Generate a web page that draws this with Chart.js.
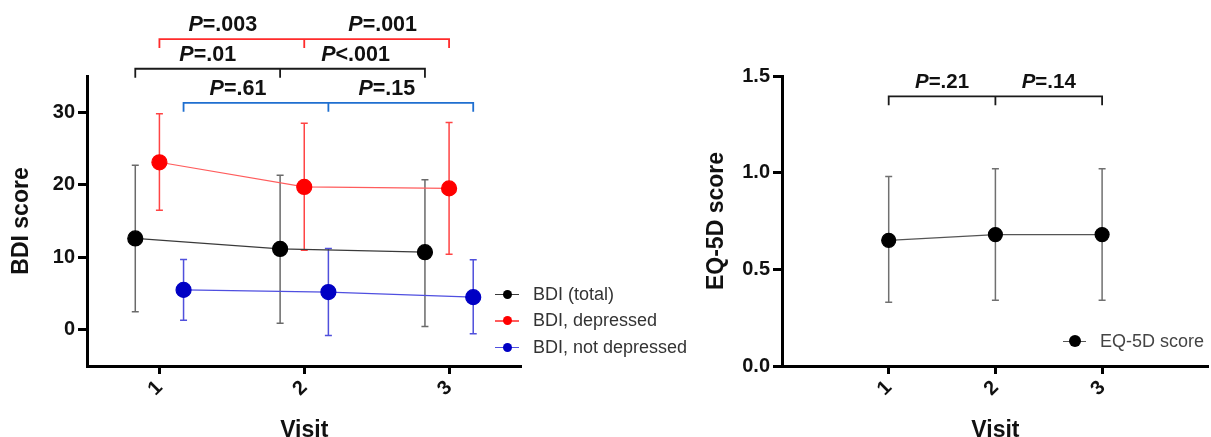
<!DOCTYPE html>
<html>
<head>
<meta charset="utf-8">
<title>BDI and EQ-5D by visit</title>
<script src="https://cdn.jsdelivr.net/npm/chart.js@4.4.1/dist/chart.umd.min.js"></script>
<style>
  html, body { margin: 0; padding: 0; background: #fff; overflow: hidden; }
  #wrap { position: relative; width: 1211px; height: 437px; overflow: hidden; }
  #bdi-chart { position: absolute; left: 0; top: 0; }
  #eq-chart { position: absolute; left: 700px; top: 0; }
  .legend { position: absolute; font-family: "Liberation Sans", Arial, sans-serif; font-size: 18px; color: #333; }
  .legend div { position: relative; height: 26.7px; line-height: 26.7px; padding-left: 38px; white-space: nowrap; }
  .legend i { position: absolute; left: 0; top: 13px; width: 24px; height: 1.5px; }
  .legend b { position: absolute; left: 7.5px; top: 9.3px; width: 9px; height: 9px; border-radius: 50%; }
  #eq-legend { color: #444; }
  #eq-legend div { padding-left: 37px; }
  #eq-legend i { width: 23px; }
  #eq-legend b { left: 5.5px; top: 7.6px; width: 12px; height: 12px; }
</style>
</head>
<body>
<div id="wrap">
  <canvas id="bdi-chart" width="560" height="448"></canvas>
  <canvas id="eq-chart" width="517" height="448"></canvas>
  <div class="legend" id="bdi-legend" style="left:495px; top:280.5px;"></div>
  <div class="legend" id="eq-legend" style="left:1063px; top:327.5px;"></div>
</div>
<script>
const FONT = '"Liberation Sans", Arial, sans-serif';

const VISITS = [1, 2, 3];
const VISIT_LABELS = ["1", "2", "3"];

// BDI score, mean with lower / upper end of error bar
const BDI_TOTAL = [12.6, 11.15, 10.7];
const BDI_TOTAL_LOW = [2.5, 0.9, 0.45];
const BDI_TOTAL_HIGH = [22.7, 21.3, 20.7];

const BDI_DEPRESSED = [23.1, 19.7, 19.5];
const BDI_DEPRESSED_LOW = [16.5, 10.95, 10.4];
const BDI_DEPRESSED_HIGH = [29.8, 28.5, 28.6];

const BDI_NOT_DEPRESSED = [5.5, 5.2, 4.5];
const BDI_NOT_DEPRESSED_LOW = [1.3, -0.8, -0.55];
const BDI_NOT_DEPRESSED_HIGH = [9.7, 11.2, 9.65];

const EQ5D = [0.65, 0.68, 0.68];
const EQ5D_LOW = [0.33, 0.34, 0.34];
const EQ5D_HIGH = [0.98, 1.02, 1.02];

const BDI_TICKS = [0, 10, 20, 30];
const EQ5D_TICKS = [0, 0.5, 1.0, 1.5];

// pairwise comparisons (visit 1 vs 2, visit 2 vs 3)
const P_DEPRESSED = ["P=.003", "P=.001"];
const P_TOTAL = ["P=.01", "P<.001"];
const P_NOT_DEPRESSED = ["P=.61", "P=.15"];
const P_EQ5D = ["P=.21", "P=.14"];

// groups are dodged around each visit
const DODGE = 1 / 6;

function points(values, shift) {
  return values.map((v, i) => ({ x: VISITS[i] + shift, y: v }));
}

const errorBars = {
  id: "errorBars",
  beforeDatasetsDraw(chart) {
    const { ctx, scales: { x, y } } = chart;
    chart.data.datasets.forEach((ds) => {
      if (!ds.low) return;
      ctx.save();
      ctx.strokeStyle = ds.errorColor;
      ctx.lineWidth = 1.5;
      ds.data.forEach((pt, i) => {
        const px = x.getPixelForValue(pt.x);
        const top = y.getPixelForValue(ds.high[i]);
        const bot = y.getPixelForValue(ds.low[i]);
        ctx.beginPath();
        ctx.moveTo(px, top);
        ctx.lineTo(px, bot);
        ctx.moveTo(px - 3.5, top);
        ctx.lineTo(px + 3.5, top);
        ctx.moveTo(px - 3.5, bot);
        ctx.lineTo(px + 3.5, bot);
        ctx.stroke();
      });
      ctx.restore();
    });
  },
};

function drawP(ctx, text, cx, cy, size) {
  const head = text.slice(0, 1);
  const rest = text.slice(1);
  const italic = `italic bold ${size}px ${FONT}`;
  const bold = `bold ${size}px ${FONT}`;
  ctx.font = italic;
  const w1 = ctx.measureText(head).width;
  ctx.font = bold;
  const w2 = ctx.measureText(rest).width;
  const left = cx - (w1 + w2) / 2;
  ctx.textBaseline = "middle";
  ctx.textAlign = "left";
  ctx.fillStyle = "#111";
  ctx.font = italic;
  ctx.fillText(head, left, cy);
  ctx.font = bold;
  ctx.fillText(rest, left + w1, cy);
}

const brackets = {
  id: "brackets",
  afterDraw(chart, args, opts) {
    const { ctx, scales: { x, y } } = chart;
    (opts.items || []).forEach((b) => {
      const py = y.getPixelForValue(b.level);
      const xs = b.at.map((v) => x.getPixelForValue(v));
      ctx.save();
      ctx.strokeStyle = b.color;
      ctx.lineWidth = 1.8;
      ctx.beginPath();
      ctx.moveTo(xs[0], py + 9);
      ctx.lineTo(xs[0], py);
      ctx.lineTo(xs[xs.length - 1], py);
      ctx.lineTo(xs[xs.length - 1], py + 9);
      for (let i = 1; i < xs.length - 1; i++) {
        ctx.moveTo(xs[i], py);
        ctx.lineTo(xs[i], py + 9);
      }
      ctx.stroke();
      b.labels.forEach((t, i) => {
        const nudge = b.nudge ? b.nudge[i] : 0;
        drawP(ctx, t, (xs[i] + xs[i + 1]) / 2 + nudge, py - 14, b.size);
      });
      ctx.restore();
    });
  },
};

function series(label, values, low, high, shift, pointColor, lineColor, errorColor, radius) {
  return {
    label,
    data: points(values, shift),
    low,
    high,
    errorColor,
    borderColor: lineColor,
    borderWidth: 1.2,
    backgroundColor: pointColor,
    pointBackgroundColor: pointColor,
    pointBorderColor: pointColor,
    pointRadius: radius,
    pointHoverRadius: radius,
    showLine: true,
    tension: 0,
    clip: false,
  };
}

function xAxis(min, max, height) {
  return {
    type: "linear",
    min,
    max,
    afterBuildTicks: (s) => { s.ticks = VISITS.map((v) => ({ value: v })); },
    afterFit: (s) => { s.height = height; },
    border: { display: true, color: "#000", width: 3 },
    grid: { drawOnChartArea: false, drawTicks: true, tickLength: 8, tickWidth: 3, tickColor: "#000" },
    ticks: {
      minRotation: 45,
      maxRotation: 45,
      padding: 2,
      color: "#111",
      font: { family: FONT, size: 20, weight: "bold" },
      callback: (v) => VISIT_LABELS[VISITS.indexOf(v)] ?? "",
    },
    title: {
      display: true,
      text: "Visit",
      color: "#111",
      font: { family: FONT, size: 23, weight: "bold" },
      padding: { top: 0, bottom: 4 },
    },
  };
}

function yAxis(min, max, tickValues, width, title, titlePad, fmt) {
  return {
    type: "linear",
    min,
    max,
    afterBuildTicks: (s) => { s.ticks = tickValues.map((v) => ({ value: v })); },
    afterFit: (s) => { s.width = width; },
    border: { display: true, color: "#000", width: 3 },
    grid: { drawOnChartArea: false, drawTicks: true, tickLength: 9, tickWidth: 3, tickColor: "#000" },
    ticks: {
      padding: 3,
      color: "#111",
      font: { family: FONT, size: 20, weight: "bold" },
      callback: fmt,
    },
    title: {
      display: true,
      text: title,
      color: "#111",
      font: { family: FONT, size: 23, weight: "bold" },
      padding: { top: titlePad, bottom: 0 },
    },
  };
}

const BDI_SERIES = [
  series("BDI (total)", BDI_TOTAL, BDI_TOTAL_LOW, BDI_TOTAL_HIGH, -DODGE, "#000000", "#3a3a3a", "#6a6a6a", 7.5),
  series("BDI, depressed", BDI_DEPRESSED, BDI_DEPRESSED_LOW, BDI_DEPRESSED_HIGH, 0, "#ff0000", "#ff5c5c", "#ff4444", 7.5),
  series("BDI, not depressed", BDI_NOT_DEPRESSED, BDI_NOT_DEPRESSED_LOW, BDI_NOT_DEPRESSED_HIGH, DODGE, "#0000c4", "#4f4fe0", "#5050dc", 7.5),
];

const EQ_SERIES = [
  series("EQ-5D score", EQ5D, EQ5D_LOW, EQ5D_HIGH, 0, "#000000", "#555555", "#707070", 7),
];

new Chart(document.getElementById("bdi-chart"), {
  type: "line",
  data: { datasets: BDI_SERIES },
  plugins: [errorBars, brackets],
  options: {
    responsive: false,
    animation: false,
    devicePixelRatio: 1,
    layout: { padding: { top: 76, right: 38.5, left: 0, bottom: 0 } },
    scales: {
      x: xAxis(0.5, 3.5, 82),
      y: yAxis(-5, 35, BDI_TICKS, 87, "BDI score", 8, (v) => String(v)),
    },
    plugins: {
      legend: { display: false },
      tooltip: { enabled: false },
      brackets: {
        items: [
          { at: VISITS, level: 40.1, color: "#ff2b2b", labels: P_DEPRESSED, size: 21.5, nudge: [-9, 6] },
          { at: VISITS.map((v) => v - DODGE), level: 36.0, color: "#1a1a1a", labels: P_TOTAL, size: 21.5, nudge: [0, 3] },
          { at: VISITS.map((v) => v + DODGE), level: 31.3, color: "#1f6fd0", labels: P_NOT_DEPRESSED, size: 21.5, nudge: [-18, -14] },
        ],
      },
    },
  },
});

new Chart(document.getElementById("eq-chart"), {
  type: "line",
  data: { datasets: EQ_SERIES },
  plugins: [errorBars, brackets],
  options: {
    responsive: false,
    animation: false,
    devicePixelRatio: 1,
    layout: { padding: { top: 76, right: 0, left: 0, bottom: 0 } },
    scales: {
      x: xAxis(0, 4, 82),
      y: yAxis(0, 1.5, EQ5D_TICKS, 82, "EQ-5D score", 3, (v) => v.toFixed(1)),
    },
    plugins: {
      legend: { display: false },
      tooltip: { enabled: false },
      brackets: {
        items: [
          { at: VISITS, level: 1.395, color: "#1a1a1a", labels: P_EQ5D, size: 20.5 },
        ],
      },
    },
  },
});

function buildLegend(el, list) {
  list.forEach((ds) => {
    const row = document.createElement("div");
    const line = document.createElement("i");
    line.style.background = ds.borderColor;
    const dot = document.createElement("b");
    dot.style.background = ds.pointBackgroundColor;
    row.appendChild(line);
    row.appendChild(dot);
    row.appendChild(document.createTextNode(ds.label));
    el.appendChild(row);
  });
}

buildLegend(document.getElementById("bdi-legend"), BDI_SERIES);
buildLegend(document.getElementById("eq-legend"), EQ_SERIES);
</script>
</body>
</html>
